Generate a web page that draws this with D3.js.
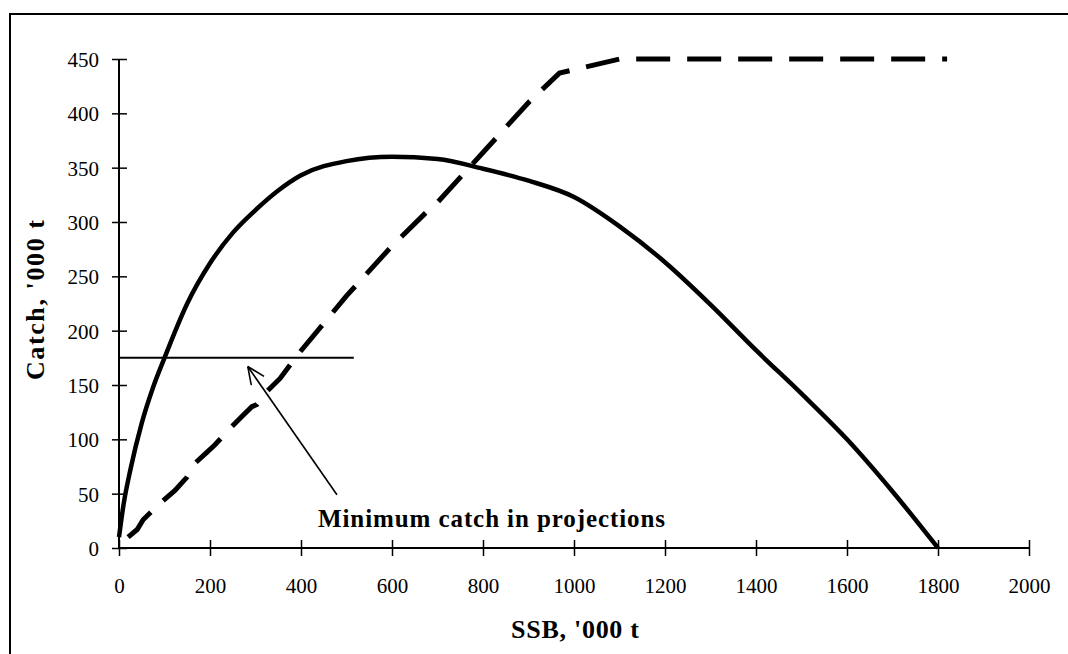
<!DOCTYPE html>
<html>
<head>
<meta charset="utf-8">
<script src="https://cdn.jsdelivr.net/npm/d3@7"></script>
<style>
  html, body { margin: 0; padding: 0; background: #fff; }
  svg { display: block; }
  text { font-family: "Liberation Serif", "Times New Roman", serif; fill: #000; }
</style>
</head>
<body>
<svg id="chart" width="1068" height="654"></svg>
<script>
// Yield curve: catch ('000 t) against SSB ('000 t)
const yieldSSB   = [0, 10, 25, 50, 75, 100, 150, 200, 250, 300, 350, 400, 500, 600, 700, 800, 900, 1000, 1100, 1200, 1300, 1400, 1500, 1600, 1700, 1800];
const yieldCatch = [10, 40, 72, 115, 148, 175, 225, 262, 290, 311, 329, 343, 356, 360, 358, 349, 338, 323, 296, 263, 224, 182, 142, 100, 52, 0];

// Harvest control rule: catch against SSB
const hcrSSB   = [20, 40, 53, 90, 123, 149, 167, 193, 211, 244, 270, 292, 303, 325, 354, 393, 500, 600, 690, 700, 800, 900, 968, 1100, 1820];
const hcrCatch = [10, 17, 26, 41, 53, 65, 78, 88, 95, 110, 121, 130, 132, 144, 156, 178, 232, 278, 315, 318, 364, 410, 437, 450, 450];

// Minimum catch level used in the projections
const minCatch = 175;
const minCatchSSB = [0, 516];

const xTicks = [0, 200, 400, 600, 800, 1000, 1200, 1400, 1600, 1800, 2000];
const yTicks = [0, 50, 100, 150, 200, 250, 300, 350, 400, 450];

const svg = d3.select("#chart");

// outer frame
svg.append("rect")
  .attr("x", 10).attr("y", 14)
  .attr("width", 1100).attr("height", 700)
  .attr("fill", "none").attr("stroke", "#000").attr("stroke-width", 2);

const x = d3.scaleLinear().domain([0, 2000]).range([119, 1029]);
const y = d3.scaleLinear().domain([0, 450]).range([548, 59]);

// axes with ticks crossing the axis line
const xAxis = svg.append("g").attr("transform", `translate(0,${y(0)})`)
  .call(d3.axisBottom(x).tickValues(xTicks).tickSize(7).tickFormat(d3.format("d")));
xAxis.select(".domain").remove();
xAxis.insert("line", ":first-child")
  .attr("x1", x(0)).attr("x2", x(2000)).attr("stroke", "#000").attr("stroke-width", 2);
xAxis.selectAll(".tick line").attr("y1", -8).attr("y2", 8).attr("stroke-width", 1.5);
xAxis.selectAll(".tick text")
  .attr("y", 45).attr("dy", 0)
  .style("font-size", "21px").style("font-family", "Liberation Serif");

const yAxis = svg.append("g").attr("transform", `translate(${x(0)},0)`)
  .call(d3.axisLeft(y).tickValues(yTicks).tickSize(7).tickFormat(d3.format("d")));
yAxis.select(".domain").remove();
yAxis.insert("line", ":first-child")
  .attr("y1", y(0)).attr("y2", y(450)).attr("stroke", "#000").attr("stroke-width", 2);
yAxis.selectAll(".tick line").attr("x1", -7).attr("x2", 8).attr("stroke-width", 1.5);
yAxis.selectAll(".tick text")
  .attr("x", -20).attr("dy", "0.35em")
  .style("font-size", "21px").style("font-family", "Liberation Serif");

// axis titles
svg.append("text")
  .attr("x", 575).attr("y", 638)
  .attr("text-anchor", "middle")
  .attr("textLength", 128).attr("lengthAdjust", "spacing")
  .style("font-size", "26px").style("font-weight", "bold")
  .text("SSB, '000 t");

svg.append("text")
  .attr("transform", "translate(44,300) rotate(-90)")
  .attr("text-anchor", "middle")
  .attr("textLength", 160).attr("lengthAdjust", "spacing")
  .style("font-size", "26px").style("font-weight", "bold")
  .text("Catch, '000 t");

// minimum catch reference line
svg.append("line")
  .attr("x1", x(minCatchSSB[0])).attr("x2", x(minCatchSSB[1]))
  .attr("y1", y(minCatch)).attr("y2", y(minCatch))
  .attr("stroke", "#000").attr("stroke-width", 2);

// yield curve (solid)
const yieldData = yieldSSB.map((s, i) => [s, yieldCatch[i]]);
svg.append("path")
  .datum(yieldData)
  .attr("fill", "none").attr("stroke", "#000").attr("stroke-width", 4.5)
  .attr("stroke-linejoin", "round")
  .attr("d", d3.line().x(d => x(d[0])).y(d => y(d[1])).curve(d3.curveMonotoneX));

// harvest control rule (dashed)
const hcrData = hcrSSB.map((s, i) => [s, hcrCatch[i]]);
svg.append("path")
  .datum(hcrData)
  .attr("fill", "none").attr("stroke", "#000").attr("stroke-width", 5)
  .attr("stroke-dasharray", "34,17")
  .attr("d", d3.line().x(d => x(d[0])).y(d => y(d[1])));

// annotation arrow
const tail = [479, 49], head = [283, 167];
const tx = x(tail[0]), ty = y(tail[1]), hx = x(head[0]), hy = y(head[1]);
svg.append("line")
  .attr("x1", tx).attr("y1", ty).attr("x2", hx).attr("y2", hy)
  .attr("stroke", "#000").attr("stroke-width", 1.6);
const ang = Math.atan2(ty - hy, tx - hx);
const len = 19, spread = 0.42;
[ang - spread, ang + spread].forEach(a => {
  svg.append("line")
    .attr("x1", hx).attr("y1", hy)
    .attr("x2", hx + len * Math.cos(a)).attr("y2", hy + len * Math.sin(a))
    .attr("stroke", "#000").attr("stroke-width", 1.6);
});

svg.append("text")
  .attr("x", 318).attr("y", 527)
  .attr("textLength", 347).attr("lengthAdjust", "spacing")
  .style("font-size", "25px").style("font-weight", "bold")
  .text("Minimum catch in projections");
</script>
</body>
</html>
